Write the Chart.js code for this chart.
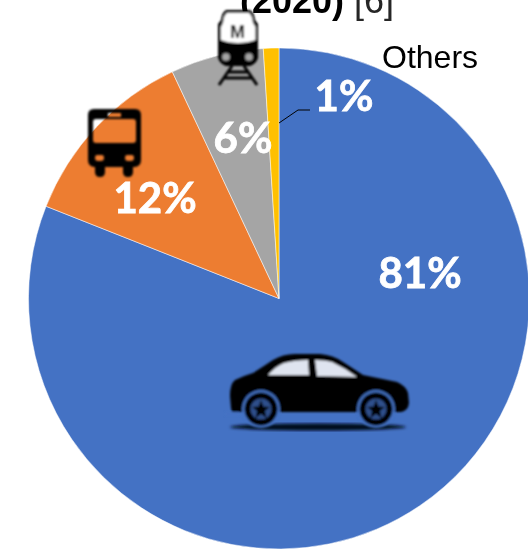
<!doctype html>
<html lang="en">

<head>
    <meta charset="utf-8">
    <title>Modal share (2020)</title>
    <script type="text/javascript" src="https://cdnjs.cloudflare.com/ajax/libs/Chart.js/4.4.1/chart.umd.min.js"></script>
    <style>
        html, body { margin: 0; padding: 0; background: #fff; overflow: hidden; }
        #wrap { position: relative; width: 528px; height: 550px; overflow: hidden; }
        #pie { position: absolute; left: 0; top: 0; }
        #icons { position: absolute; left: 0; top: 0; }
    </style>
</head>

<body>
    <div id="wrap">
        <canvas id="pie" width="528" height="550"></canvas>

        <!-- transport icons, holes are evenodd so the slices show through -->
        <svg id="icons" width="528" height="550" viewBox="0 0 528 550">
            <defs>
                <filter id="soft"><feGaussianBlur stdDeviation="0.8"></feGaussianBlur></filter>
                <filter id="softer"><feGaussianBlur stdDeviation="1.8"></feGaussianBlur></filter>
            </defs>

            <!-- car -->
            <ellipse cx="318" cy="427" rx="88" ry="3.5" fill="#050a1c" filter="url(#softer)"></ellipse>
            <g filter="url(#soft)">
                <path d="M231,408 L230,396 Q230,384 235,380 Q243,376 253,373 Q264,366 273,360 Q283,354 295,354 L320,354 Q333,355 343,362 L363,375 L397,382 Q406,386 408,393 L409,403 Q408,411 401,412 L232,412 Z" fill="#000"></path>
                <path d="M268,375 Q276,366 284,363 Q295,360 308,360 L309,375 Z" fill="#dfe4ef"></path>
                <path d="M315,360 Q325,360 332,362 Q345,368 357,377 L317,376 Z" fill="#dfe4ef"></path>
                <circle cx="261" cy="409" r="19" fill="#4472C4"></circle>
                <circle cx="376" cy="409" r="19" fill="#4472C4"></circle>
                <circle cx="261" cy="409" r="16.5" fill="#000"></circle>
                <circle cx="376" cy="409" r="16.5" fill="#000"></circle>
                <circle cx="261" cy="409" r="10.5" fill="#2f4f8c"></circle>
                <circle cx="376" cy="409" r="10.5" fill="#2f4f8c"></circle>
                <path d="M261,400 L263.5,406.5 L270,407 L265,411 L266.5,418 L261,414 L255.5,418 L257,411 L252,407 L258.5,406.5 Z" fill="#000"></path>
                <path d="M376,400 L378.5,406.5 L385,407 L380,411 L381.5,418 L376,414 L370.5,418 L372,411 L367,407 L373.5,406.5 Z" fill="#000"></path>
                <rect x="225" y="412" width="14" height="4" fill="#4472C4"></rect>
            </g>

            <!-- bus -->
            <g filter="url(#soft)">
                <path fill-rule="evenodd" fill="#000" d="M94,109 L135,109 Q141,109 141,115 L141,160 Q141,166 135,167 L133,167 L133,172 Q133,177 128,177 Q123,177 123,172 L123,167 L105,167 L105,172 Q105,177 100,177 Q95,177 95,172 L95,167 L94,167 Q88,166 88,160 L88,115 Q88,109 94,109 Z
                    M96,119 Q93,119 93,122 L93,140 Q93,143 96,143 L133,143 Q136,143 136,140 L136,122 Q136,119 133,119 Z
                    M108,113 L121,113 L121,117 L108,117 Z
                    M97,155 L102,155 Q104,155 104,158 Q104,161 101,161 L98,161 Q95,161 95,158 Q95,155 97,155 Z
                    M127,155 L132,155 Q134,155 134,158 Q134,161 131,161 L128,161 Q125,161 125,158 Q125,155 127,155 Z"></path>
            </g>

            <!-- metro -->
            <g filter="url(#soft)">
                <path d="M226,10 L250,10 Q254,12 255,20 L258,24 L258,58 Q256,64 250,66 L226,66 Q220,64 218,58 L218,24 L221,20 Q222,12 226,10 Z" fill="#000"></path>
                <path d="M227,13 L249,13 Q252,15 253,23 L255.5,27 L255.5,40 Q248,43 238,43 Q228,43 221,40 L221,27 L223,23 Q224,15 227,13 Z" fill="#fff"></path>
                <circle cx="226" cy="57" r="3.8" fill="#a5a5a5"></circle>
                <circle cx="249" cy="57" r="3.8" fill="#a5a5a5"></circle>
                <path d="M232,66 L219,85 M244,66 L257,85 M228,72 L248,72 M224,78 L252,78" stroke="#000" stroke-width="3" fill="none"></path>
                <text x="237.5" y="38" text-anchor="middle" font-family="Liberation Sans" font-weight="700" font-size="18" fill="#000">M</text>
            </g>
        </svg>
    </div>

    <script type="text/javascript">
        var categories = ["Car", "Bus", "Metro", "Others"];
        var shares = [81, 12, 6, 1];
        var sliceColors = ["#4472C4", "#ED7D31", "#A5A5A5", "#FFC000"];

        // where each percentage sits on the canvas
        var labelSpots = [[420, 274], [155, 199], [243, 139], [344, 97]];

        var pieLabels = {
            id: "pieLabels",
            afterDraw: function(chart) {
                var ctx = chart.ctx;
                ctx.save();

                // leader line for the small slice
                ctx.strokeStyle = "#000";
                ctx.lineWidth = 1;
                ctx.beginPath();
                ctx.moveTo(279, 123);
                ctx.lineTo(298, 110);
                ctx.lineTo(310, 110);
                ctx.stroke();

                ctx.fillStyle = "#fff";
                ctx.strokeStyle = "#fff";
                ctx.lineWidth = 0.8;
                ctx.font = "bold 42px Lato";
                ctx.textAlign = "center";
                ctx.textBaseline = "middle";
                for (var i in shares) {
                    ctx.fillText(shares[i] + "%", labelSpots[i][0], labelSpots[i][1]);
                    ctx.strokeText(shares[i] + "%", labelSpots[i][0], labelSpots[i][1]);
                }

                ctx.fillStyle = "#000";
                ctx.textAlign = "left";
                ctx.textBaseline = "alphabetic";
                ctx.font = "32px 'Liberation Sans'";
                ctx.fillText(categories[3], 382, 68);

                // heading, runs off the top edge
                ctx.font = "bold 36px 'Liberation Sans'";
                ctx.fillText("(2020)", 240, 13);
                var w = ctx.measureText("(2020)").width;
                ctx.fillStyle = "#262626";
                ctx.font = "36px 'Liberation Sans'";
                ctx.fillText(" [6]", 240 + w, 13);

                ctx.restore();
            }
        };

        var ctx = document.getElementById("pie").getContext("2d");
        var myChart = new Chart(ctx, {
            type: "pie",
            data: {
                labels: categories,
                datasets: [{
                    data: shares,
                    backgroundColor: sliceColors,
                    borderColor: "#fff",
                    borderWidth: 0.5,
                    clip: false
                }]
            },
            plugins: [pieLabels],
            options: {
                responsive: false,
                animation: false,
                radius: 250.5,
                layout: { padding: { left: 30, top: 47, right: 0, bottom: 0 } },
                plugins: {
                    legend: { display: false },
                    tooltip: { enabled: false }
                }
            }
        });
    </script>
</body>

</html>
